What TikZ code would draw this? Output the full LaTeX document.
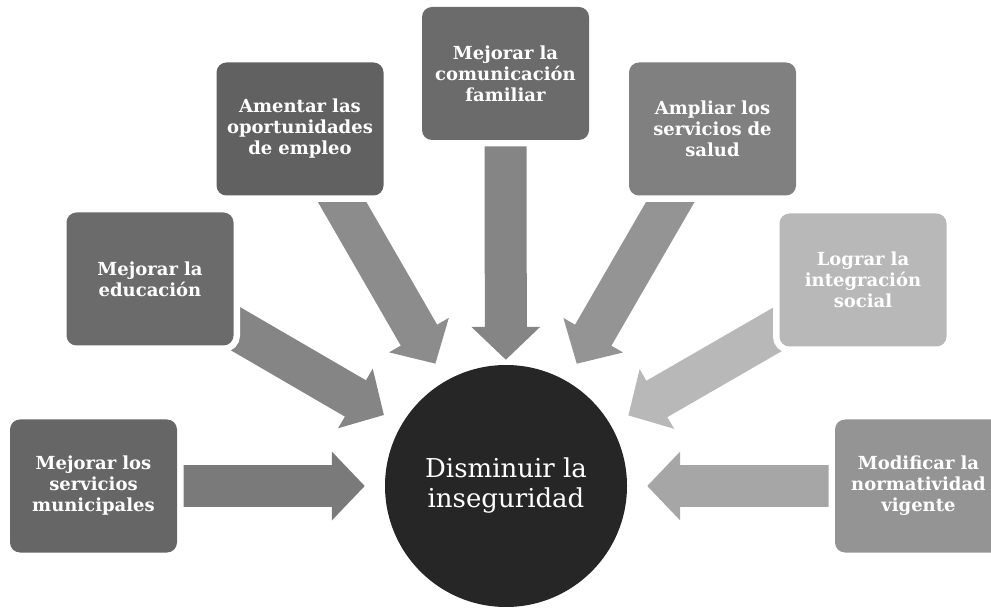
\documentclass[tikz,border=0pt]{standalone}
\usepackage{fontspec}
\setmainfont{DejaVu Serif}
\usetikzlibrary{arrows.meta}
\pgfdeclarelayer{back}
\pgfsetlayers{back,main}
\begin{document}
\begin{tikzpicture}[x=1pt,y=-1pt,
  box/.style={rectangle,rounded corners=10pt,minimum width=167pt,minimum height=133pt,
    text width=160pt,inner sep=2pt,align=center,text=white,
    font=\bfseries\fontsize{18}{21}\selectfont,preaction={draw=white,line width=13pt}},
  bigarrow/.style={line width=42pt,-{Triangle[length=33pt,width=67pt]},shorten >=20pt}]
\useasboundingbox (0,0) rectangle (991,609);
\node[box,fill=black!60] (muni) at (93.5,486) {Mejorar los\\servicios\\municipales};
\node[box,fill=black!58] (educ) at (150,279) {Mejorar la\\educación};
\node[box,fill=black!62] (empleo) at (300,129) {Amentar las\\oportunidades\\de empleo};
\node[box,fill=black!58] (fam) at (505.5,73.5) {Mejorar la\\comunicación\\familiar};
\node[box,fill=black!50] (salud) at (712.5,129) {Ampliar los\\servicios de\\salud};
\node[box,fill=black!28] (social) at (863,280) {Lograr la\\integración\\social};
\node[box,fill=black!42] (norma) at (918.5,486) {Modificar la\\normatividad\\vigente};
\node[circle,minimum size=242pt,fill=black!85,text=white,align=center,
  font=\fontsize{26}{30}\selectfont] (meta) at (506,486) {Disminuir la\\inseguridad};
\begin{pgfonlayer}{back}
\draw[bigarrow,draw=black!52] (muni.center) -- (meta);
\draw[bigarrow,draw=black!48] (educ.center) -- (meta);
\draw[bigarrow,draw=black!45] (empleo.center) -- (meta);
\draw[bigarrow,draw=black!48,shorten >=5pt] (fam.center) -- (meta);
\draw[bigarrow,draw=black!42] (salud.center) -- (meta);
\draw[bigarrow,draw=black!28] (social.center) -- (meta);
\draw[bigarrow,draw=black!35] (norma.center) -- (meta);
\end{pgfonlayer}
\end{tikzpicture}
\end{document}
